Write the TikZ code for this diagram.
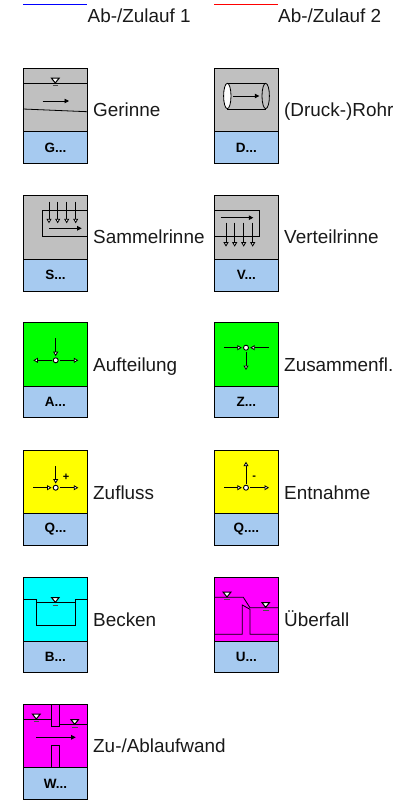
\documentclass[tikz,border=0pt]{standalone}
\usepackage{fontspec}
\setmainfont{Liberation Sans}
\usetikzlibrary{arrows.meta}

\begin{document}
\begin{tikzpicture}
      [x=1pt,y=-1pt
      ,fil1/.style={draw=black,line width=.9pt,anchor=north west,inner sep=0pt,minimum width=64pt}
      ,fil2/.style={fil1,fill=tagblue,font=\fontsize{13.5}{15}\selectfont\bfseries}
      ,txt/.style={anchor=base west,inner sep=0pt,text=black!90,font=\fontsize{18.9}{21}\selectfont}
      ,lin/.style={draw=black,line width=.8pt}
      ,flow/.style={lin,-{Triangle[fill=white,length=4.5pt,width=5pt]}}
      ,flowd/.style={lin,-{Triangle[length=4.5pt,width=4.5pt]}}
      ,knot/.style={draw=black,line width=.9pt,fill=white,circle,inner sep=0pt,minimum size=5pt}
      ,flowin/.style={flow,shorten >=1.2pt}
      ,flowout/.style={flow,shorten <=1.2pt}
      ]
        \definecolor{tagblue}{HTML}{A6CAF0}
        \definecolor{rohrgray}{HTML}{C0C0C0}
        \definecolor{fgreen}{HTML}{00FF00}
        \definecolor{fyellow}{HTML}{FFFF00}
        \definecolor{fcyan}{HTML}{00FFFF}
        \definecolor{fmagenta}{HTML}{FF00FF}
        \definecolor{lblue}{HTML}{0000FF}
        \definecolor{lred}{HTML}{FF0000}
        \useasboundingbox (0,0) rectangle (416,803);

        % legend
        \coordinate (l1a) at (23,4.3);
        \coordinate (l1b) at (87,4.3);
        \coordinate (l2a) at (214,4.3);
        \coordinate (l2b) at (278,4.3);
        \draw[lblue,line width=.6pt] (l1a) -- (l1b);
        \draw[lred,line width=.6pt] (l2a) -- (l2b);
        \node[txt] (zulauf1) at (87.5,22) {Ab-/Zulauf 1};
        \node[txt] (zulauf2) at (278,22) {Ab-/Zulauf 2};

        % blocks
        \foreach \id/\x/\ya/\yb/\yc/\yt/\col/\tg/\lab in
           {ger/23/67.5/131/163/116.7/rohrgray/G/Gerinne,
            roh/214/67.5/131/163/116.7/rohrgray/D/{(Druck-)Rohr},
            sam/23/195/258.7/290.7/243.3/rohrgray/S/Sammelrinne,
            ver/214/195/258.7/290.7/243.3/rohrgray/V/Verteilrinne,
            auf/23/322/385.7/417/371.7/fgreen/A/Aufteilung,
            zus/214/322/385.7/417/371.7/fgreen/Z/Zusammenfl.,
            zuf/23/449.5/513/545/499/fyellow/Q/Zufluss,
            ent/214/449.5/513/545/499/fyellow/Q./Entnahme,
            bec/23/576.7/640.7/672/626/fcyan/B/Becken,
            ube/214/576.7/640.7/672/626/fmagenta/U/Überfall,
            wan/23/704/767/799/752/fmagenta/W/{Zu-/Ablaufwand}}
        {
            \node[fil1,fill=\col,minimum height={(\yb-\ya)*1pt}] (\id) at (\x,\ya) {};
            \node[fil2,minimum height={(\yc-\yb)*1pt}] (\id tag) at (\x,\yb) {\tg...};
            \node[txt] (\id txt) at (\x+70,\yt) {\lab};
        }

        % water levels
        \foreach \x/\y in {55.3/83, 55.3/602.3, 227/597, 265.7/607.3, 36.3/719, 74.7/724.3}
        {
            \draw[draw=black,line width=1pt,fill=white] (\x,\y) -- +(-3.8,-4.8) -- +(3.8,-4.8) -- cycle;
            \draw[draw=black!70,line width=.9pt] (\x-2.8,\y+2.8) -- (\x+2.8,\y+2.8);
        }

        % Gerinne
        \draw[lin] (23,83.3) -- (87,83.3);
        \draw[lin] (23,109) -- (87,111.7);
        \draw[flowd] (42.7,101) -- (69,101);

        % Rohr
        \draw[lin] (227.3,83.3) -- (265.7,83.3);
        \draw[lin] (227.3,109) -- (265.7,109);
        \draw[lin] (265.7,96) ellipse [x radius=3.7,y radius=12.7];
        \draw[lin,fill=white] (227.3,96) ellipse [x radius=3.7,y radius=12.7];
        \draw[flowd] (233.3,96) -- (259.3,96);

        % Sammelrinne
        \draw[lin] (87,210.7) -- (42.3,210.7) -- (42.3,236) -- (87,236);
        \foreach \x in {49,57.7,66.7,75.7}
            \draw[flow] (\x,201.7) -- (\x,223.3);
        \draw[flowd] (49,228.3) -- (81.7,228.3);

        % Verteilrinne
        \draw[lin] (214,210.7) -- (259.3,210.7) -- (259.3,236) -- (214,236);
        \draw[flowd] (220.7,217.7) -- (253.3,217.7);
        \foreach \x in {226,234.7,243.7,252.7}
            \draw[flow] (\x,222.7) -- (\x,246.7);

        % Aufteilung
        \node[knot] (k1) at (55.7,360.3) {};
        \draw[flowin] (55.7,338.3) -- (k1);
        \draw[flowout] (k1) -- (33.3,360.3);
        \draw[flowout] (k1) -- (78.3,360.3);

        % Zusammenfluss
        \node[knot] (k2) at (246,347.7) {};
        \draw[flowin] (224,347.7) -- (k2);
        \draw[flowin] (268.7,347.7) -- (k2);
        \draw[flowout] (k2) -- (246,370);

        % Zufluss
        \node[knot] (k3) at (55.7,487.7) {};
        \draw[flowin] (55.7,466) -- (k3);
        \draw[flowin] (33.3,487.7) -- (k3);
        \draw[flowout] (k3) -- (78.3,487.7);
        \node[inner sep=0pt,font=\fontsize{11}{11}\selectfont\bfseries] (plus) at (66,477.3) {+};

        % Entnahme
        \node[knot] (k4) at (246,487.7) {};
        \draw[flowin] (224,487.7) -- (k4);
        \draw[flowout] (k4) -- (269,487.7);
        \draw[flowout] (k4) -- (246,461.7);
        \node[inner sep=0pt,font=\fontsize{11}{11}\selectfont\bfseries] (minus) at (254.3,478) {-};

        % Becken
        \draw[lin] (23,599.3) -- (36.7,599.3) -- (36.7,625.3) -- (75,625.3) -- (75,599.3) -- (87,599.3);
        \draw[lin] (36.7,602.3) -- (75,602.3);

        % Ueberfall
        \draw[lin] (214,597.3) -- (243.3,597.3) -- (250,607.7) -- (278,607.7);
        \draw[lin] (214,634.3) -- (242.3,634.3) -- (242.3,605) -- (250,609.3) -- (250,634.3) -- (278,634.3);

        % Wand
        \draw[lin] (23,719) -- (51.7,719);
        \draw[lin] (59.3,724.3) -- (87,724.3);
        \draw[lin] (51.7,704) rectangle (59.3,726.7);
        \draw[lin] (51.7,745) rectangle (59.3,767);
        \draw[flowd] (36,737.3) -- (75.7,737.3);

       \end{tikzpicture}
\end{document}
